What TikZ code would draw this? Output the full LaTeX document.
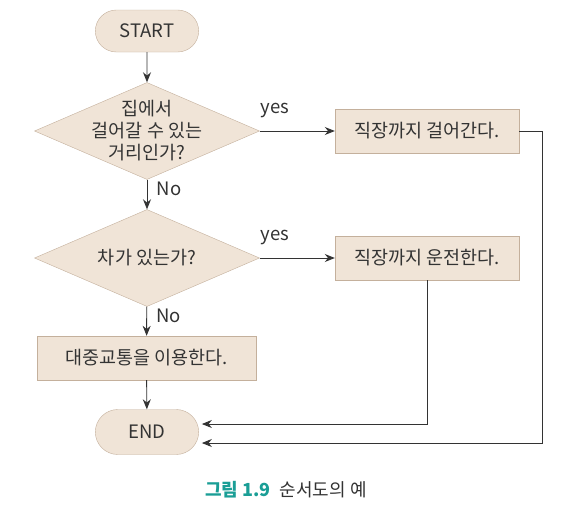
\documentclass[tikz,border=0pt]{standalone}
\usepackage{fontspec}
\setmainfont{Noto Sans CJK KR}
\usetikzlibrary{shapes.geometric,shapes.misc,arrows.meta}

\definecolor{boxfill}{HTML}{F0E4D7}
\definecolor{boxline}{HTML}{C4B09C}
\definecolor{inkgray}{HTML}{333333}
\definecolor{capteal}{HTML}{1A9E96}

\tikzset{
  terminal/.style={rounded rectangle, draw=boxline, fill=boxfill,
    minimum width=110pt, minimum height=42pt},
  decision/.style={diamond, draw=boxline, fill=boxfill,
    minimum width=225pt, minimum height=97pt, inner sep=0pt},
  process/.style={rectangle, draw=boxline, fill=boxfill,
    minimum width=184pt, minimum height=44pt},
  flow/.style={draw=inkgray, line width=0.9pt, -{Stealth[length=10pt,width=8pt]}},
  yeslabel/.style={pos=0, anchor=south west, xshift=-3pt, yshift=9pt},
  nolabel/.style={pos=0.3, anchor=west, xshift=6pt},
}

\begin{document}
\begin{tikzpicture}[x=1pt,y=-1pt, font=\fontsize{18.5}{22}\selectfont, text=inkgray]
  \useasboundingbox[fill=white] (0,0) rectangle (584,512);
  % boxes
  \node[terminal] (start) at (147,31) {START};
  \node[decision, label={[align=center]center:{집에서\\걸어갈 수 있는\\거리인가?}}]
    (walkq) at (147,131) {};
  \node[process] (walk) at (427,131) {직장까지 걸어간다.};
  \node[decision, label={center:차가 있는가?}] (carq) at (147,258) {};
  \node[process] (drive) at (427,258) {직장까지 운전한다.};
  \node[process, minimum width=219pt] (transit) at (146.5,358) {대중교통을 이용한다.};
  \node[terminal, minimum height=45pt] (end) at (147,432) {END};
  \node[font=\fontsize{18}{22}\selectfont] (cap) at (286,490)
    {\textcolor{capteal}{\textbf{그림 1.9}}\enspace 순서도의 예};
  % flow lines
  \draw[flow] (start) -- (walkq);
  \draw[flow] (walkq) -- node[nolabel]{No} (carq);
  \draw[flow] (walkq.east) -- node[yeslabel]{yes} (walk);
  \draw[flow] (carq) -- node[nolabel]{No} (transit);
  \draw[flow] (carq.east) -- node[yeslabel]{yes} (drive);
  \draw[flow] (transit) -- (end);
  \draw[flow] (walk.east) -- ++(23,0) |- ([shift={(3pt,-11pt)}]end.east);
  \draw[flow] (drive.south) |- ([shift={(3pt,8pt)}]end.east);
\end{tikzpicture}
\end{document}
